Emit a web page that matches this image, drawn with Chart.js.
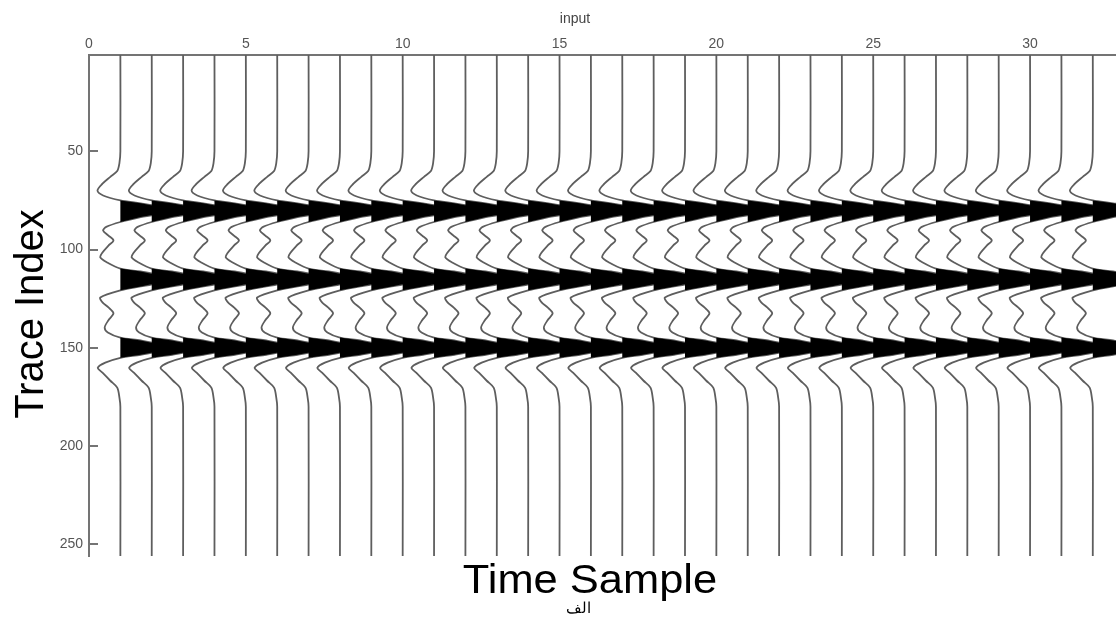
<!DOCTYPE html>
<html>
<head>
<meta charset="utf-8">
<script src="https://cdn.jsdelivr.net/npm/chart.js@4.4.1/dist/chart.umd.min.js"></script>
<style>
  html, body { margin: 0; padding: 0; background: #ffffff; }
  #wrap { width: 1116px; height: 623px; }
</style>
</head>
<body>
<div id="wrap"><canvas id="wiggle" width="1116" height="623"></canvas></div>
<script>
// Trace positions along the top axis
const traceNumbers = [1, 2, 3, 4, 5, 6, 7, 8, 9, 10, 11, 12, 13, 14, 15, 16,
                      17, 18, 19, 20, 21, 22, 23, 24, 25, 26, 27, 28, 29, 30, 31, 32];

// One recorded trace: sample depth (trace index axis) and amplitude in trace-spacing units
const sampleDepth = [1, 50, 56, 60, 63, 66.5, 70, 72.5, 75, 76.5, 78, 80, 82, 83.5, 86,
                     88.5, 90.3, 92.9, 95.4, 98, 101.5, 104, 106.6, 109.7,
                     111.2, 112.8, 115, 117.2, 118.8, 120.8,
                     124.4, 126.9, 129.5, 132.5, 136, 139.7, 142.2, 144.8,
                     146.3, 148, 150, 152, 153.6, 155.1,
                     157.6, 160.2, 162.7, 166.8, 170.3, 175.4, 180, 256];
const sampleAmp = [0, 0, -0.03, -0.10, -0.32, -0.57, -0.73, -0.55, 0, 0.65, 1.15, 1.38, 1.15, 0.65, 0,
                   -0.45, -0.55, -0.38, -0.22, -0.38, -0.57, -0.64, -0.42, 0,
                   0.65, 1.15, 1.38, 1.15, 0.65, 0,
                   -0.64, -0.57, -0.38, -0.22, -0.38, -0.50, -0.40, 0,
                   0.65, 1.15, 1.38, 1.15, 0.65, 0,
                   -0.48, -0.72, -0.57, -0.32, -0.10, -0.03, 0, 0];

// Axis tick labels
const xTickValues = [0, 5, 10, 15, 20, 25, 30];
const yTickValues = [50, 100, 150, 200, 250];

const FONT = "'Liberation Sans', Arial, Helvetica, sans-serif";
const AXIS_GRAY = '#747474';
const TRACE_GRAY = '#5e5e5e';

// Positive lobes are shaded black (variable-area display); wiggles drawn as gray lines
const fillSets = traceNumbers.map(t => ({
  label: 'fill ' + t,
  data: sampleDepth.map((d, k) => ({ x: t + Math.max(0, sampleAmp[k]), y: d })),
  borderWidth: 0,
  pointRadius: 0,
  tension: 0,
  backgroundColor: '#000000',
  fill: { value: t },
  order: 1
}));

const lineSets = traceNumbers.map(t => ({
  label: 'trace ' + t,
  data: sampleDepth.map((d, k) => ({ x: t + sampleAmp[k], y: d })),
  borderColor: TRACE_GRAY,
  borderWidth: 1.8,
  pointRadius: 0,
  tension: 0.3,
  fill: false,
  order: 2
}));

// Inward y ticks and the free-standing captions
const decorations = {
  id: 'decorations',
  afterDraw(chart) {
    const ctx = chart.ctx;
    const area = chart.chartArea;
    const ys = chart.scales.y;
    ctx.save();
    ctx.strokeStyle = AXIS_GRAY;
    ctx.lineWidth = 2;
    yTickValues.forEach(v => {
      const p = Math.round(ys.getPixelForValue(v));
      ctx.beginPath();
      ctx.moveTo(area.left, p);
      ctx.lineTo(area.left + 9, p);
      ctx.stroke();
    });

    ctx.fillStyle = '#000000';
    ctx.textAlign = 'center';
    ctx.textBaseline = 'alphabetic';

    ctx.save();
    ctx.translate(590, 593);
    ctx.scale(1.06, 1);
    ctx.font = '41px ' + FONT;
    ctx.fillText('Time Sample', 0, 0);
    ctx.restore();

    ctx.font = '15px ' + FONT;
    ctx.fillText('الف', 578, 613);

    ctx.fillStyle = '#444444';
    ctx.font = '14px ' + FONT;
    ctx.fillText('input', 575, 23);

    ctx.fillStyle = '#000000';
    ctx.translate(43, 314);
    ctx.rotate(-Math.PI / 2);
    ctx.font = '40px ' + FONT;
    ctx.fillText('Trace Index', 0, 0);
    ctx.restore();
  }
};

new Chart(document.getElementById('wiggle'), {
  type: 'line',
  data: { datasets: fillSets.concat(lineSets) },
  options: {
    indexAxis: 'y',
    responsive: false,
    animation: false,
    devicePixelRatio: 1,
    layout: { padding: { left: 0, right: 0, top: 0, bottom: 67 } },
    plugins: {
      legend: { display: false },
      tooltip: { enabled: false },
      title: { display: false }
    },
    elements: { point: { radius: 0 } },
    scales: {
      x: {
        type: 'linear',
        position: 'top',
        min: 0,
        max: 32.74,
        afterBuildTicks: s => { s.ticks = xTickValues.map(v => ({ value: v })); },
        afterFit: s => { s.height = 55; },
        grid: { display: true, drawOnChartArea: false, drawTicks: false },
        border: { display: true, color: AXIS_GRAY, width: 2 },
        ticks: { color: '#555555', font: { size: 14, family: FONT }, padding: 2,
                 maxRotation: 0, autoSkip: false }
      },
      y: {
        type: 'linear',
        position: 'left',
        reverse: true,
        min: 1,
        max: 256,
        afterBuildTicks: s => { s.ticks = yTickValues.map(v => ({ value: v })); },
        afterFit: s => { s.width = 89; },
        grid: { display: true, drawOnChartArea: false, drawTicks: false },
        border: { display: true, color: AXIS_GRAY, width: 2 },
        ticks: { color: '#555555', font: { size: 14, family: FONT }, padding: 6,
                 autoSkip: false }
      }
    }
  },
  plugins: [decorations]
});
</script>
</body>
</html>
